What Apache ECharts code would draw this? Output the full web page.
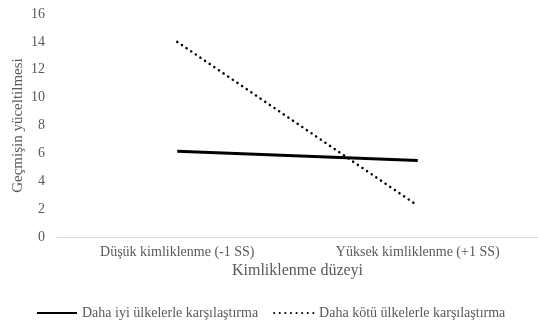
<!DOCTYPE html>
<html><head><meta charset="utf-8">
<script src="https://cdn.jsdelivr.net/npm/echarts@6/dist/echarts.min.js"></script>
<style>html,body{margin:0;padding:0;background:#fff}#c{width:538px;height:325px}</style>
</head><body><div id="c"></div>
<script>
const categories = ["Düşük kimliklenme (-1 SS)", "Yüksek kimliklenme (+1 SS)"];
const betterValues = [6.15, 5.48];
const worseValues = [14.0, 2.25];
const seriesNames = ["Daha iyi ülkelerle karşılaştırma", "Daha kötü ülkelerle karşılaştırma"];
const xAxisTitle = "Kimliklenme düzeyi";
const yAxisTitle = "Geçmişin yüceltilmesi";

const font = "Liberation Serif";
const gray = "#595959";
const chart = echarts.init(document.getElementById('c'));
chart.setOption({
  animation: false,
  textStyle: {fontFamily: font},
  grid: {left: 57, top: 14, width: 482, bottom: 88},
  legend: {
    bottom: 0, left: 31, itemWidth: 40, itemHeight: 10, itemGap: 15,
    itemStyle: {opacity: 0},
    textStyle: {fontFamily: font, fontSize: 14, color: gray},
    data: seriesNames
  },
  xAxis: {
    type: 'category', data: categories, boundaryGap: true,
    axisLine: {lineStyle: {color: '#d9d9d9', width: 1}},
    axisTick: {show: false},
    axisLabel: {fontFamily: font, fontSize: 14, color: gray, margin: 8},
    name: xAxisTitle, nameLocation: 'middle', nameGap: 26, nameMoveOverlap: false,
    nameTextStyle: {fontFamily: font, fontSize: 16, color: gray}
  },
  yAxis: {
    type: 'value', min: 0, max: 16, interval: 2,
    axisLine: {show: false}, axisTick: {show: false}, splitLine: {show: false},
    axisLabel: {fontFamily: font, fontSize: 14, color: gray, margin: 12},
    name: yAxisTitle, nameLocation: 'middle', nameGap: 31, nameMoveOverlap: false,
    nameTextStyle: {fontFamily: font, fontSize: 15, color: gray}
  },
  series: [
    {name: seriesNames[0], type: 'line', data: betterValues, symbol: 'none',
     lineStyle: {color: '#000', width: 3}, itemStyle: {color: '#000'}},
    {name: seriesNames[1], type: 'line', data: worseValues, symbol: 'none',
     lineStyle: {color: '#000', width: 2.5, type: [0.1, 5.5], cap: 'round'}, itemStyle: {color: '#000'}}
  ]
});
</script></body></html>
